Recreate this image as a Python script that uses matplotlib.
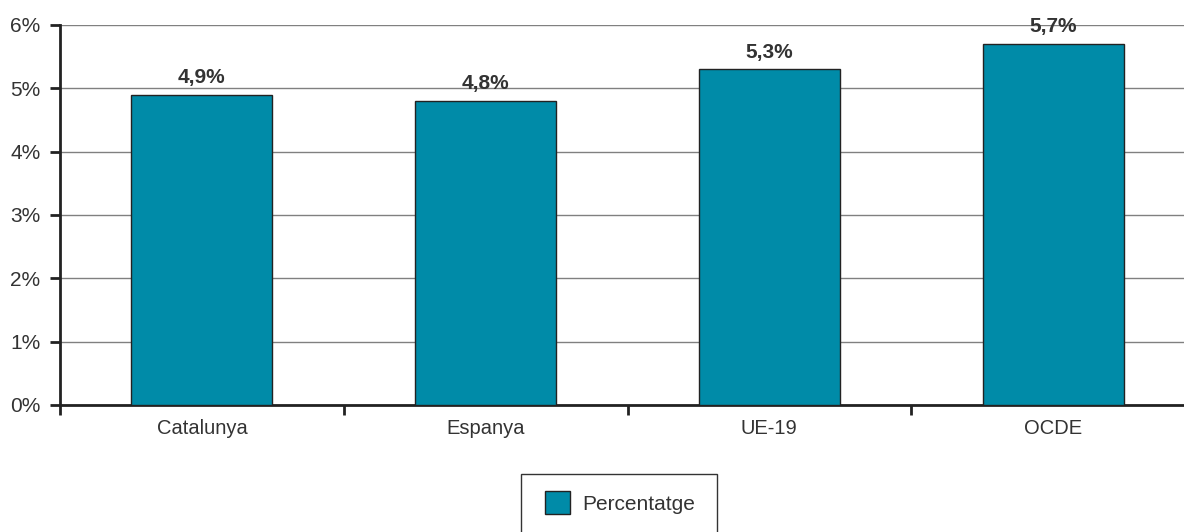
import matplotlib.pyplot as plt
from matplotlib.patches import Rectangle
import numpy as np

categories = ["Catalunya", "Espanya", "UE-19", "OCDE"]
values = [4.9, 4.8, 5.3, 5.7]
value_labels = ["4,9%", "4,8%", "5,3%", "5,7%"]
series_name = "Percentatge"

plt.rcParams['font.family'] = ['Liberation Sans', 'DejaVu Sans']

W, H = 1184, 532
fig = plt.figure(figsize=(W / 100, H / 100), dpi=100)
# plot area runs slightly past the right edge of the figure
ax = fig.add_axes([60 / W, 127 / H, 1135 / W, 380 / H])

x = np.arange(len(categories))
bars = ax.bar(x, values, width=0.497, color="#008ba8", edgecolor="#222222",
              linewidth=1.0, label=series_name, zorder=3)

for xi, v, lab in zip(x, values, value_labels):
    ax.text(xi, v + 0.12, lab, ha="center", va="bottom", fontsize=15,
            fontweight="bold", color="#333333", zorder=4)

ax.set_xlim(-0.5, len(categories) - 0.5)
ax.set_ylim(0, 6)
ax.set_yticks(range(0, 7))
ax.set_yticklabels([f"{i}%" for i in range(0, 7)])
ax.yaxis.grid(True, color="#808080", linewidth=1.0, zorder=0)
ax.set_axisbelow(True)

# category labels at centres, tick marks at boundaries
ax.set_xticks(x)
ax.set_xticklabels(categories)
ax.tick_params(axis="x", which="major", length=0, pad=10, labelsize=14.5,
               labelcolor="#333333")
ax.set_xticks(np.arange(-0.5, len(categories), 1.0), minor=True)
ax.tick_params(axis="x", which="minor", length=7, width=2, color="#222222",
               direction="out")
ax.tick_params(axis="y", length=7, width=2, color="#222222", labelsize=15,
               labelcolor="#333333", pad=7)

for s in ["top", "right"]:
    ax.spines[s].set_visible(False)
for s in ["left", "bottom"]:
    ax.spines[s].set_linewidth(2)
    ax.spines[s].set_color("#222222")

# legend box, cut off by the bottom edge like the original
fig.patches.append(Rectangle((521 / W, -10 / H), 196 / W, 68 / H,
                             transform=fig.transFigure, facecolor="white",
                             edgecolor="#333333", linewidth=1.0))
leg = fig.legend(handles=[bars], labels=[series_name], loc="upper left",
                 bbox_to_anchor=(545 / W, 1 - 491 / H), borderaxespad=0,
                 frameon=False, fontsize=15, handlelength=1.2,
                 handleheight=1.35, borderpad=0, handletextpad=0.6,
                 labelcolor="#333333")

fig.savefig("out.png", dpi=100)
